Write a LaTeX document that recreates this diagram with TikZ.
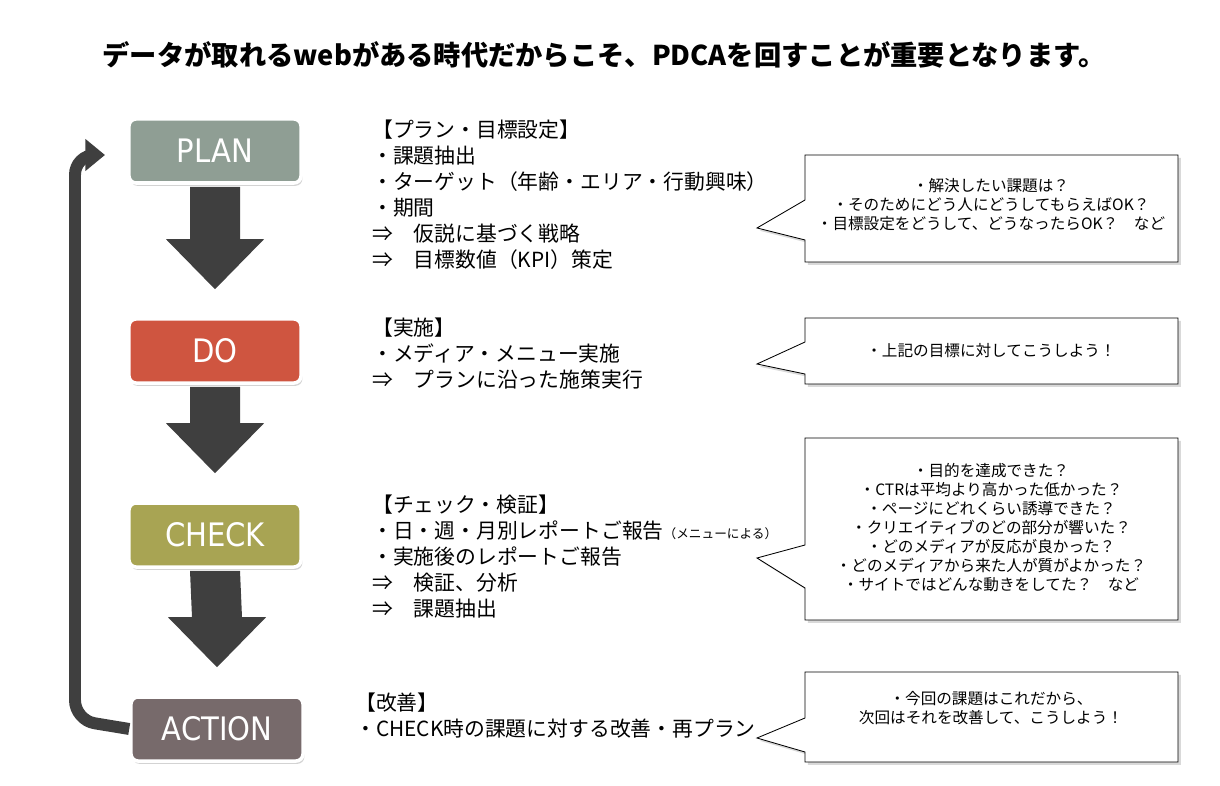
\documentclass[tikz,border=0pt]{standalone}
\usepackage{fontspec}
\setmainfont{Noto Sans CJK JP}
\newfontfamily\boxfont{DejaVu Sans Condensed}
\usetikzlibrary{positioning,calc,shadows,arrows.meta}
\definecolor{plancol}{HTML}{8F9E94}
\definecolor{docol}{HTML}{CF5540}
\definecolor{checkcol}{HTML}{A8A453}
\definecolor{actcol}{HTML}{776A6B}
\definecolor{arrowgray}{HTML}{3F3F3F}
\tikzset{
  phase/.style={rounded corners=5pt, draw=white, line width=2.5pt, minimum width=4.3cm,
    minimum height=1.6cm, text=white, font=\boxfont\fontsize{23}{26}\selectfont,
    drop shadow={shadow xshift=1pt, shadow yshift=-2pt, opacity=.35}},
  desc/.style={anchor=north west, align=left, inner sep=0pt, font=\fontsize{14.8}{18.5}\selectfont},
  bubble/.style={draw=black, fill=white, line width=0.6pt,
    drop shadow={shadow xshift=2pt, shadow yshift=-2pt, opacity=.3}},
  note/.style={align=center, inner sep=0pt, font=\fontsize{11.1}{13.5}\selectfont}
}
% down arrow between two phases
\newcommand\phasedown[2]{\fill[arrowgray] ($(#1.south)+(-25,2)$) -- ($(#2.north)+(-25,-78)$)
  -- ($(#2.north)+(-49,-78)$) -- ($(#2.north)+(0,-28)$) -- ($(#2.north)+(49,-78)$)
  -- ($(#2.north)+(25,-78)$) -- ($(#1.south)+(25,2)$) -- cycle;}
% callout: x1,y1,x2,y2, pointer a, pointer b, tip y
\newcommand\callout[7]{\draw[bubble] (#1,#2) -- (#3,#2) -- (#3,#4) -- (#1,#4) -- (#1,#6)
  -- (757,#7) -- (#1,#5) -- cycle;}
\begin{document}
\begin{tikzpicture}[x=0.025cm, y=-0.025cm]
\useasboundingbox (0,0) rectangle (1220,786);
% title
\node[font=\bfseries\fontsize{19.4}{21}\selectfont] (title) at (604,55)
  {データが取れるwebがある時代だからこそ、PDCAを回すことが重要となります。};
% phases
\node[phase, fill=plancol] (plan) at (215,151) {PLAN};
\node[phase, fill=docol] (do) at (215,351) {DO};
\node[phase, fill=checkcol] (check) at (215,535) {CHECK};
\node[phase, fill=actcol] (action) at (217,729) {ACTION};
\phasedown{plan}{do}
\phasedown{do}{check}
\phasedown{check}{action}
% loop back
\coordinate (back) at (105,155);
\draw[arrowgray, line width=8.5pt, rounded corners=14pt, -{Triangle[length=14pt,width=22pt]}]
  (action.west) -- (75,720) -- (75,155) -- (back);
% descriptions
\node[desc] (plantxt) at (372,120) {【プラン・目標設定】\\・課題抽出\\・ターゲット（年齢・エリア・行動興味）\\・期間\\⇒\quad 仮説に基づく戦略\\⇒\quad 目標数値（KPI）策定};
\node[desc] (dotxt) at (372,318) {【実施】\\・メディア・メニュー実施\\⇒\quad プランに沿った施策実行};
\node[desc] (checktxt) at (372,495) {【チェック・検証】\\・日・週・月別レポートご報告{\fontsize{9}{10}\selectfont（メニューによる）}\\・実施後のレポートご報告\\⇒\quad 検証、分析\\⇒\quad 課題抽出};
\node[desc] (acttxt) at (355,693) {【改善】\\・CHECK時の課題に対する改善・再プラン};
% callouts
\callout{805}{155}{1178}{262}{200}{240}{228}
\node[note] (plannote) at (991,205) {・解決したい課題は？\\・そのためにどう人にどうしてもらえばOK？\\・目標設定をどうして、どうなったらOK？\quad など};
\callout{805}{318}{1178}{384}{342}{374}{364}
\node[note] (donote) at (991,351) {・上記の目標に対してこうしよう！};
\callout{805}{438}{1178}{620}{545}{588}{558}
\node[note] (checknote) at (991,528) {・目的を達成できた？\\・CTRは平均より高かった低かった？\\・ページにどれくらい誘導できた？\\・クリエイティブのどの部分が響いた？\\・どのメディアが反応が良かった？\\・どのメディアから来た人が質がよかった？\\・サイトではどんな動きをしてた？\quad など};
\callout{805}{672}{1178}{762}{718}{752}{738}
\node[note] (actnote) at (991,708) {・今回の課題はこれだから、\\次回はそれを改善して、こうしよう！};
\end{tikzpicture}
\end{document}
